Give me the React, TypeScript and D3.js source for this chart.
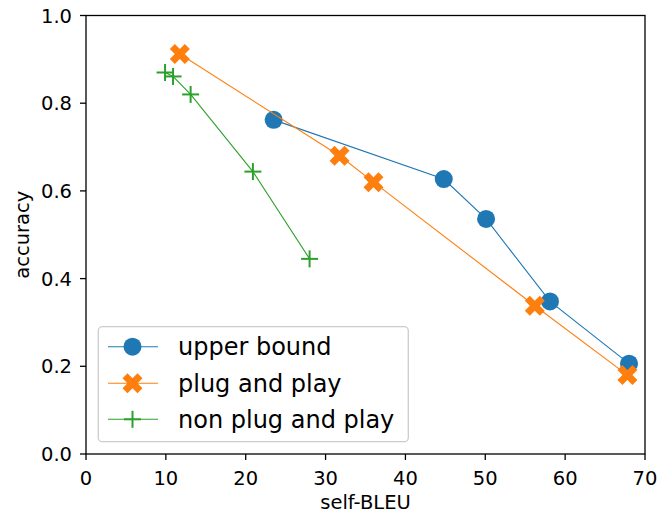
import React from "react";
import * as d3 from "d3";

// self-BLEU (x) vs accuracy (y) for three settings
const upperX = [23.5, 44.8, 50.1, 58.1, 68.0];
const upperY = [0.762, 0.627, 0.536, 0.348, 0.206];

const plugX = [11.75, 31.75, 36.0, 56.2, 67.8];
const plugY = [0.912, 0.68, 0.62, 0.338, 0.18];

const nonPlugX = [9.9, 10.9, 13.1, 20.9, 28.0];
const nonPlugY = [0.87, 0.861, 0.82, 0.644, 0.445];

const xTicks = [0, 10, 20, 30, 40, 50, 60, 70];
const yTicks = [0.0, 0.2, 0.4, 0.6, 0.8, 1.0];

const seriesNames = ["upper bound", "plug and play", "non plug and play"];
const colors = ["#1f77b4", "#ff7f0e", "#2ca02c"];

const W = 659;
const H = 516;
const M = { left: 86, right: 645, top: 15.5, bottom: 454 };
const FONT = "DejaVu Sans, sans-serif";

const xScale = d3.scaleLinear().domain([0, 70]).range([M.left, M.right]);
const yScale = d3.scaleLinear().domain([0, 1]).range([M.bottom, M.top]);

const line = d3
  .line<[number, number]>()
  .x((d) => xScale(d[0]))
  .y((d) => yScale(d[1]));

// matplotlib-style filled "X" marker
const xMarkerPath = (cx: number, cy: number, s: number) => {
  const pts = [
    [-0.25, -0.5], [0, -0.25], [0.25, -0.5], [0.5, -0.25], [0.25, 0], [0.5, 0.25],
    [0.25, 0.5], [0, 0.25], [-0.25, 0.5], [-0.5, 0.25], [-0.25, 0], [-0.5, -0.25],
  ];
  return "M" + pts.map(([a, b]) => `${cx + a * s},${cy + b * s}`).join("L") + "Z";
};

function Marker({ kind, cx, cy, color }: { kind: number; cx: number; cy: number; color: string }) {
  if (kind === 0) return <circle cx={cx} cy={cy} r={9} fill={color} />;
  if (kind === 1) return <path d={xMarkerPath(cx, cy, 20)} fill={color} />;
  return (
    <g stroke={color} strokeWidth={2}>
      <line x1={cx - 8.5} x2={cx + 8.5} y1={cy} y2={cy} />
      <line x1={cx} x2={cx} y1={cy - 8.5} y2={cy + 8.5} />
    </g>
  );
}

export default function App() {
  const series = [
    { xs: upperX, ys: upperY },
    { xs: plugX, ys: plugY },
    { xs: nonPlugX, ys: nonPlugY },
  ];
  const legendRows = [346.7, 383.3, 419.3];
  return (
    <svg width={W} height={H} style={{ position: "absolute", left: 0, top: 0 }} fontFamily={FONT}>
      <rect width={W} height={H} fill="#fff" />
      {series.map((s, i) => {
        const pts = s.xs.map((x, j) => [x, s.ys[j]] as [number, number]);
        return (
          <g key={i}>
            <path d={line(pts) || ""} fill="none" stroke={colors[i]} strokeWidth={1.1} />
            {pts.map((p, j) => (
              <Marker key={j} kind={i} cx={xScale(p[0])} cy={yScale(p[1])} color={colors[i]} />
            ))}
          </g>
        );
      })}
      {/* spines */}
      <rect
        x={M.left}
        y={M.top}
        width={M.right - M.left}
        height={M.bottom - M.top}
        fill="none"
        stroke="#000"
        strokeWidth={1.3}
      />
      {/* x axis */}
      {xTicks.map((t) => (
        <g key={t}>
          <line x1={xScale(t)} x2={xScale(t)} y1={M.bottom} y2={M.bottom + 6} stroke="#000" strokeWidth={1.3} />
          <text x={xScale(t)} y={485} fontSize={19.5} textAnchor="middle" fill="#000">
            {t}
          </text>
        </g>
      ))}
      <text x={(M.left + M.right) / 2} y={509} fontSize={19.5} textAnchor="middle" fill="#000">
        self-BLEU
      </text>
      {/* y axis */}
      {yTicks.map((t) => (
        <g key={t}>
          <line x1={M.left - 6} x2={M.left} y1={yScale(t)} y2={yScale(t)} stroke="#000" strokeWidth={1.3} />
          <text x={72} y={yScale(t) + 7} fontSize={19.5} textAnchor="end" fill="#000">
            {t.toFixed(1)}
          </text>
        </g>
      ))}
      <text
        transform={`translate(29, ${(M.top + M.bottom) / 2}) rotate(-90)`}
        fontSize={19.5}
        textAnchor="middle"
        fill="#000"
      >
        accuracy
      </text>
      {/* legend */}
      <rect
        x={98.3}
        y={326.7}
        width={310}
        height={115}
        rx={4}
        fill="#fff"
        fillOpacity={0.8}
        stroke="#ccc"
        strokeWidth={1.3}
      />
      {seriesNames.map((name, i) => (
        <g key={name}>
          <line x1={108} x2={158} y1={legendRows[i]} y2={legendRows[i]} stroke={colors[i]} strokeWidth={1.1} />
          <Marker kind={i} cx={132.5} cy={legendRows[i]} color={colors[i]} />
          <text x={178} y={legendRows[i] + 8.5} fontSize={24} fill="#000">
            {name}
          </text>
        </g>
      ))}
    </svg>
  );
}
